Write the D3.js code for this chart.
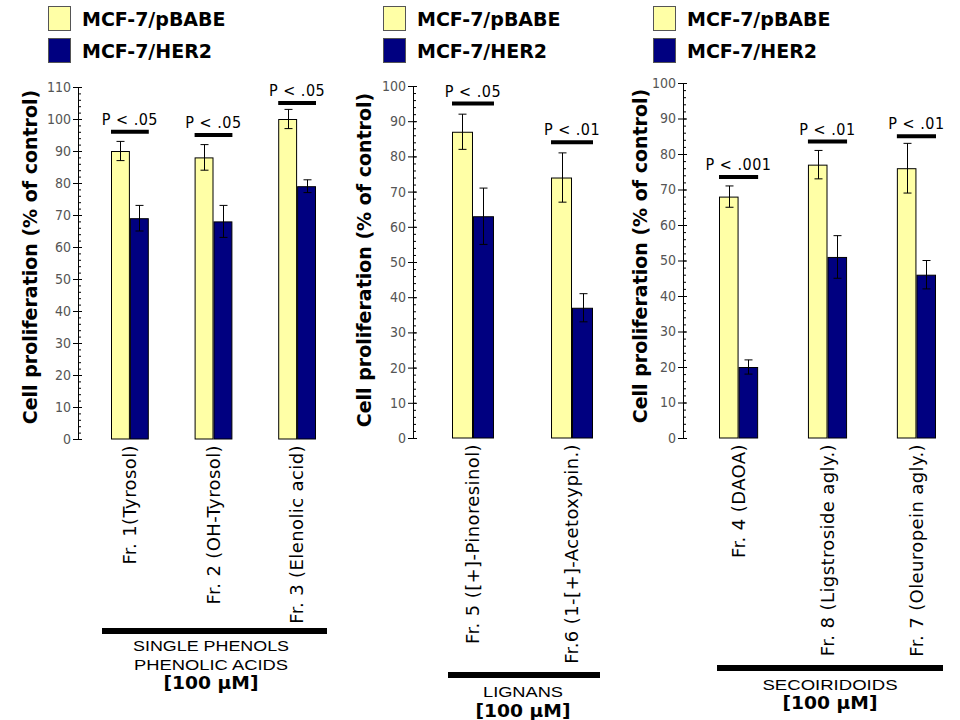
<!DOCTYPE html>
<html>
<head>
<meta charset="utf-8">
<script src="https://cdn.jsdelivr.net/npm/d3@7"></script>
<style>
  html, body { margin: 0; padding: 0; background: #fff; }
  svg { display: block; }
</style>
</head>
<body>
<svg id="chart" width="960" height="720"></svg>
<script>
// ---------------- DATA ----------------
const series = ["MCF-7/pBABE", "MCF-7/HER2"];

const categories1 = ["Fr. 1(Tyrosol)", "Fr. 2 (OH-Tyrosol)", "Fr. 3 (Elenolic acid)"];
const pbabe1 = [90, 88, 100];
const pbabeErr1 = [3, 4, 3];
const her2_1 = [69, 68, 79];
const her2Err1 = [4, 5, 2];
const pLabels1 = ["P < .05", "P < .05", "P < .05"];
const pLevel1 = [96, 95, 105];

const categories2 = ["Fr. 5 ([+]-Pinoresinol)", "Fr.6 (1-[+]-Acetoxypin.)"];
const pbabe2 = [87, 74];
const pbabeErr2 = [5, 7];
const her2_2 = [63, 37];
const her2Err2 = [8, 4];
const pLabels2 = ["P < .05", "P < .01"];
const pLevel2 = [95, 84];

const categories3 = ["Fr. 4 (DAOA)", "Fr. 8 (Ligstroside agly.)", "Fr. 7 (Oleuropein agly.)"];
const pbabe3 = [68, 77, 76];
const pbabeErr3 = [3, 4, 7];
const her2_3 = [20, 51, 46];
const her2Err3 = [2, 6, 4];
const pLabels3 = ["P < .001", "P < .01", "P < .01"];
const pLevel3 = [73.5, 83.5, 85];

const yMax1 = 110, yMax2 = 100, yMax3 = 100;
const groupNames1 = ["SINGLE PHENOLS", "PHENOLIC ACIDS", "[100 \u03BCM]"];
const groupNames2 = ["LIGNANS", "[100 \u03BCM]"];
const groupNames3 = ["SECOIRIDOIDS", "[100 \u03BCM]"];
const yTitle = "Cell proliferation (% of control)";

// ---------------- STYLE / LAYOUT ----------------
const colors = ["#FFFFA6", "#000080"];
const tickFont = "'Liberation Sans Narrow', 'DejaVu Sans Condensed', 'Liberation Sans', sans-serif";
const boldFont = "'DejaVu Sans', Verdana, sans-serif";

const panels = [
  { cats: categories1, vals: [pbabe1, her2_1], errs: [pbabeErr1, her2Err1], pl: pLabels1, pv: pLevel1, yMax: yMax1,
    axisX: 78, yTop: 87, yBot: 439, barRange: [111, 316], pad: 0.548, titleX: 30, titleY: 257,
    legendX: 48, groupLine: [102, 327, 631], groupNames: groupNames1, groupX: 211, groupY: [651, 670, 689], groupW: [156, 154, 95] },
  { cats: categories2, vals: [pbabe2, her2_2], errs: [pbabeErr2, her2Err2], pl: pLabels2, pv: pLevel2, yMax: yMax2,
    axisX: 413, yTop: 86, yBot: 438, barRange: [452, 593], pad: 0.576, titleX: 364, titleY: 260,
    legendX: 383, groupLine: [448, 600, 675], groupNames: groupNames2, groupX: 523, groupY: [697, 717], groupW: [80, 95] },
  { cats: categories3, vals: [pbabe3, her2_3], errs: [pbabeErr3, her2Err3], pl: pLabels3, pv: pLevel3, yMax: yMax3,
    axisX: 683, yTop: 83, yBot: 438, barRange: [719, 936], pad: 0.56, titleX: 640, titleY: 256,
    legendX: 653, groupLine: [717, 943, 668], groupNames: groupNames3, groupX: 830, groupY: [690, 709], groupW: [135, 95] }
];

const svg = d3.select("#chart");

panels.forEach(p => {
  const g = svg.append("g");
  const y = d3.scaleLinear().domain([0, p.yMax]).range([p.yBot, p.yTop]);
  const x = d3.scaleBand().domain(p.cats).range(p.barRange).paddingInner(p.pad).paddingOuter(0);
  const xs = d3.scaleBand().domain(series).range([0, x.bandwidth()]);

  // minor ticks (right side)
  const minorVals = d3.range(0, p.yMax + 0.001, 2);
  const minor = g.append("g").attr("transform", `translate(${p.axisX},0)`)
    .call(d3.axisRight(y).tickValues(minorVals).tickSize(3).tickFormat(""));
  minor.select(".domain").remove();
  minor.selectAll("line").attr("stroke", "#000");
  const majorVals = d3.range(0, p.yMax + 0.001, 10);
  const majorR = g.append("g").attr("transform", `translate(${p.axisX},0)`)
    .call(d3.axisRight(y).tickValues(majorVals).tickSize(4).tickFormat(""));
  majorR.select(".domain").remove();
  majorR.selectAll("line").attr("stroke", "#000");

  // major axis
  const ax = g.append("g").attr("transform", `translate(${p.axisX},0)`)
    .call(d3.axisLeft(y).tickValues(majorVals).tickSize(5).tickSizeOuter(0).tickPadding(2).tickFormat(d3.format("d")));
  ax.select(".domain").attr("stroke", "#000");
  ax.selectAll("line").attr("stroke", "#000");
  ax.selectAll("text").attr("font-family", tickFont).attr("font-size", 14).attr("fill", "#555");

  // y title
  g.append("text")
    .attr("transform", `translate(${p.titleX},${p.titleY}) rotate(-90)`)
    .attr("text-anchor", "middle").attr("dy", "0.35em")
    .attr("font-family", boldFont).attr("font-weight", "bold").attr("font-size", 19)
    .text(yTitle);

  // bars
  p.cats.forEach((c, i) => {
    series.forEach((s, k) => {
      const v = p.vals[k][i], e = p.errs[k][i];
      const bx = x(c) + xs(s);
      g.append("rect")
        .attr("x", bx + 0.5).attr("y", y(v) + 0.5)
        .attr("width", xs.bandwidth() - 1).attr("height", y(0) - y(v) - 0.5)
        .attr("fill", colors[k]).attr("stroke", "#000").attr("stroke-width", 1);
      const cx = Math.round(bx + xs.bandwidth() / 2) + 0.5;
      const eg = g.append("g").attr("stroke", "#000").attr("stroke-width", 1);
      eg.append("line").attr("x1", cx).attr("x2", cx).attr("y1", y(v + e)).attr("y2", y(v - e));
      eg.append("line").attr("x1", cx - 4).attr("x2", cx + 4).attr("y1", y(v + e)).attr("y2", y(v + e));
      eg.append("line").attr("x1", cx - 4).attr("x2", cx + 4).attr("y1", y(v - e)).attr("y2", y(v - e));
    });
    // significance
    const sy = y(p.pv[i]);
    g.append("line").attr("x1", x(c)).attr("x2", x(c) + x.bandwidth())
      .attr("y1", sy).attr("y2", sy).attr("stroke", "#000").attr("stroke-width", 4);
    g.append("text").attr("x", x(c) + x.bandwidth() / 2).attr("y", sy - 7)
      .attr("text-anchor", "middle").attr("font-family", tickFont).attr("font-size", 16)
      .attr("letter-spacing", 0.5).attr("fill", "#000").text(p.pl[i]);
    // x label
    g.append("text")
      .attr("transform", `translate(${x(c) + x.bandwidth() / 2},${p.yBot + 6}) rotate(-90)`)
      .attr("text-anchor", "end").attr("dy", "0.35em")
      .attr("font-family", boldFont).attr("font-size", 18).attr("letter-spacing", 0.4).attr("fill", "#000")
      .text(c);
  });

  // legend
  series.forEach((s, k) => {
    const ly = 6 + k * 32;
    g.append("rect").attr("x", p.legendX + 0.5).attr("y", ly + 0.5).attr("width", 22).attr("height", 24)
      .attr("fill", colors[k]).attr("stroke", "#555").attr("stroke-width", 1);
    g.append("text").attr("x", p.legendX + 34).attr("y", ly + 20)
      .attr("font-family", boldFont).attr("font-weight", "bold").attr("font-size", 19)
      .text(s);
  });

  // group bar and names
  g.append("line").attr("x1", p.groupLine[0]).attr("x2", p.groupLine[1])
    .attr("y1", p.groupLine[2]).attr("y2", p.groupLine[2]).attr("stroke", "#000").attr("stroke-width", 6);
  p.groupNames.forEach((n, j) => {
    const last = j === p.groupNames.length - 1;
    const t = g.append("text").attr("x", p.groupX).attr("y", p.groupY[j]).attr("text-anchor", "middle").text(n)
      .attr("textLength", p.groupW[j]).attr("lengthAdjust", "spacingAndGlyphs");
    if (last) {
      t.attr("font-family", boldFont).attr("font-weight", "bold").attr("font-size", 17);
    } else {
      t.attr("font-family", "'Liberation Sans', Arial, sans-serif").attr("font-size", 14);
    }
  });
});
</script>
</body>
</html>
